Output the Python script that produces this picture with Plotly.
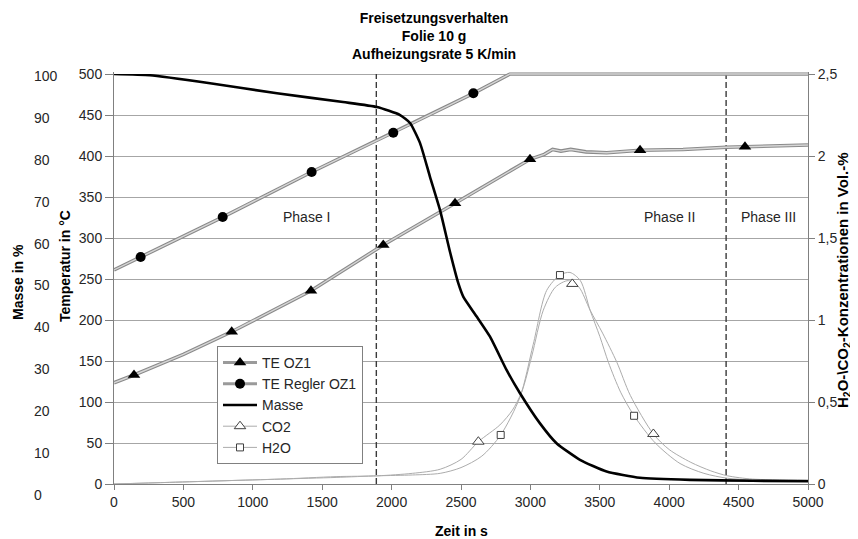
import plotly.graph_objects as go

# ---------------- data ----------------
title_lines = ["Freisetzungsverhalten", "Folie 10 g", "Aufheizungsrate 5 K/min"]

# TE OZ1 (thermocouple, triangles) - time in s, temperature in °C
time_te_oz1 = [0, 144, 500, 848, 1419, 1940, 2457, 2997, 3100, 3160, 3220, 3290, 3400, 3550, 3790, 4100, 4410, 4546, 4800, 5000]
temp_te_oz1 = [123.5, 132.9, 158, 185.7, 235.7, 291.5, 342.3, 396, 402, 408, 406, 408, 405, 404, 407, 408, 410.6, 411.3, 412.5, 413.4]
marker_time_te_oz1 = [144, 848, 1419, 1940, 2457, 2997, 3790, 4546]
marker_temp_te_oz1 = [132.9, 185.7, 235.7, 291.5, 342.3, 396, 407, 411.3]

# TE Regler OZ1 (controller, circles)
time_te_regler = [0, 192, 783, 1424, 2012, 2589, 2853, 5000]
temp_te_regler = [261, 276.8, 325.6, 380.5, 428.4, 476.5, 500, 500]
marker_time_te_regler = [192, 783, 1424, 2012, 2589]
marker_temp_te_regler = [276.8, 325.6, 380.5, 428.4, 476.5]

# Masse in %
time_masse = [0, 259, 692, 1174, 1650, 1895, 2061, 2133, 2205, 2277, 2349, 2421, 2481, 2517, 2613, 2709,
              2829, 2925, 3069, 3190, 3357, 3549, 3789, 4149, 4600, 5000]
masse = [100.5, 100.2, 98.3, 95.9, 93.8, 92.6, 90.7, 88.8, 84.0, 75.9, 68.0, 58.0, 50.5, 47.3, 42.6, 37.8,
         29.8, 24.3, 17.1, 12.3, 8.4, 5.6, 4.1, 3.6, 3.4, 3.3]

# CO2 in Vol.-%
time_co2 = [0, 400, 800, 1200, 1600, 1900, 2150, 2350, 2500, 2625, 2780, 2870, 2937, 3010, 3093, 3180, 3273,
            3350, 3430, 3520, 3623, 3720, 3886, 4000, 4156, 4300, 4420, 4600, 5000]
co2 = [0.0, 0.01, 0.02, 0.03, 0.045, 0.05, 0.065, 0.09, 0.15, 0.258, 0.36, 0.45, 0.56, 0.78, 1.06, 1.2, 1.24,
       1.2, 1.06, 0.92, 0.742, 0.54, 0.305, 0.21, 0.132, 0.08, 0.05, 0.03, 0.025]
marker_time_co2 = [2625, 3302, 3886]
marker_co2 = [0.258, 1.22, 0.305]

# H2O in Vol.-%
time_h2o = [0, 400, 800, 1200, 1600, 1900, 2150, 2350, 2500, 2650, 2786, 2925, 3020, 3117, 3213, 3285, 3360,
            3430, 3500, 3562, 3650, 3747, 3900, 4078, 4250, 4420, 4600, 5000]
h2o = [0.0, 0.01, 0.02, 0.03, 0.04, 0.05, 0.055, 0.065, 0.1, 0.17, 0.299, 0.53, 0.85, 1.18, 1.274, 1.29, 1.24,
       1.06, 0.9, 0.742, 0.56, 0.416, 0.25, 0.125, 0.065, 0.035, 0.025, 0.02]
marker_time_h2o = [2786, 3213, 3747]
marker_h2o = [0.299, 1.274, 0.416]

phase_names = ["Phase I", "Phase II", "Phase III"]
phase_time = [1388, 4001, 4714]
phase_temp = [326, 326, 326]
phase_bounds = [1890, 4410]

# ---------------- geometry / style ----------------
OFF = 8                       # page margin of the html body
W, H = 858 - OFF, 539 - OFF   # figure size
ML, MR, MT, MB = 12, 50, 64, 40
PW = W - ML - MR
PH = H - MT - MB

T_MAX = 502                   # a little headroom so the 500 °C plateau is not clipped
PX_PER_K = 410 / 500


def fx(px):
    """page pixel (reference) -> paper x"""
    return (px - OFF - ML) / PW


def fy(py):
    """page pixel (reference) -> paper y"""
    return (H - MB - (py - OFF)) / PH


FONT = "Liberation Sans, Arial, sans-serif"
TXT = "#262626"
AXC = "#808080"
GRAY_OUT = "#8a8a8a"
GRAY_IN = "#d6d6d6"
THIN = "#acacac"
MK = "#404040"

fig = go.Figure()


def te_series(xs, ys, mx, my, symbol, msize):
    fig.add_trace(go.Scatter(x=xs, y=ys, mode="lines", line=dict(color=GRAY_OUT, width=3.6),
                             showlegend=False, hoverinfo="skip"))
    fig.add_trace(go.Scatter(x=xs, y=ys, mode="lines", line=dict(color=GRAY_IN, width=1.4),
                             showlegend=False, hoverinfo="skip"))
    fig.add_trace(go.Scatter(x=mx, y=my, mode="markers",
                             marker=dict(symbol=symbol, size=msize, color="black"),
                             showlegend=False))


# gas concentrations (right axis)
fig.add_trace(go.Scatter(x=time_co2, y=co2, yaxis="y2", mode="lines",
                         line=dict(color=THIN, width=1, shape="spline", smoothing=0.8),
                         showlegend=False, hoverinfo="skip"))
fig.add_trace(go.Scatter(x=time_h2o, y=h2o, yaxis="y2", mode="lines",
                         line=dict(color=THIN, width=1, shape="spline", smoothing=0.8),
                         showlegend=False, hoverinfo="skip"))
fig.add_trace(go.Scatter(x=marker_time_co2, y=marker_co2, yaxis="y2", mode="markers",
                         marker=dict(symbol="triangle-up", size=10, color="white", line=dict(color=MK, width=1)),
                         showlegend=False))
fig.add_trace(go.Scatter(x=marker_time_h2o, y=marker_h2o, yaxis="y2", mode="markers",
                         marker=dict(symbol="square", size=7, color="white", line=dict(color=MK, width=1)),
                         showlegend=False))

te_series(time_te_regler, temp_te_regler, marker_time_te_regler, marker_temp_te_regler, "circle", 10)
te_series(time_te_oz1, temp_te_oz1, marker_time_te_oz1, marker_temp_te_oz1, "triangle-up", 11)

# mass (own axis)
fig.add_trace(go.Scatter(x=time_masse, y=masse, yaxis="y3", mode="lines",
                         line=dict(color="black", width=2.6, shape="spline", smoothing=0.5),
                         showlegend=False, hoverinfo="skip"))

# legend entries
fig.add_trace(go.Scatter(x=[None], y=[None], name="TE OZ1", mode="lines+markers",
                         line=dict(color="#9a9a9a", width=3),
                         marker=dict(symbol="triangle-up", size=11, color="black")))
fig.add_trace(go.Scatter(x=[None], y=[None], name="TE Regler OZ1", mode="lines+markers",
                         line=dict(color="#9a9a9a", width=3),
                         marker=dict(symbol="circle", size=10, color="black")))
fig.add_trace(go.Scatter(x=[None], y=[None], name="Masse", mode="lines",
                         line=dict(color="black", width=2.6)))
fig.add_trace(go.Scatter(x=[None], y=[None], name="CO2", mode="lines+markers",
                         line=dict(color=THIN, width=1),
                         marker=dict(symbol="triangle-up", size=10, color="white", line=dict(color=MK, width=1))))
fig.add_trace(go.Scatter(x=[None], y=[None], name="H2O", mode="lines+markers",
                         line=dict(color=THIN, width=1),
                         marker=dict(symbol="square", size=7, color="white", line=dict(color=MK, width=1))))

shapes = [dict(type="line", xref="x", yref="y", x0=b, x1=b, y0=0, y1=500, layer="between",
               line=dict(color="#3a3a3a", width=1.4, dash="6px,3px")) for b in phase_bounds]


def label(px, py, text, size=14, angle=0, color="black"):
    return dict(xref="paper", yref="paper", x=fx(px), y=fy(py), showarrow=False,
                xanchor="center", yanchor="middle", textangle=angle,
                text=text, font=dict(size=size, color=color))


annotations = [
    label(434, 36, "<br>".join("<b>%s</b>" % t for t in title_lines)),
    label(18, 282, "<b>Masse in %</b>", angle=-90),
    label(65, 266, "<b>Temperatur in °C</b>", angle=-90),
    label(843, 280, "<b>H<sub>2</sub>O-\\CO<sub>2</sub>-Konzentrationen in Vol.-%</b>", size=15, angle=-90),
    label(461, 531, "<b>Zeit in s</b>"),
]
for n, t, v in zip(phase_names, phase_time, phase_temp):
    annotations.append(dict(xref="x", yref="y", x=t, y=v, text=n, showarrow=False,
                            xanchor="center", yanchor="middle", font=dict(size=14, color=TXT)))

top_px = 484 - T_MAX * PX_PER_K   # pixel row of T_MAX

fig.update_layout(
    width=W, height=H,
    margin=dict(l=ML, r=MR, t=MT, b=MB, autoexpand=False),
    paper_bgcolor="white", plot_bgcolor="rgba(0,0,0,0)",
    separators=",.",
    font=dict(family=FONT, size=14, color=TXT),
    showlegend=True,
    legend=dict(x=fx(217), y=fy(346), xanchor="left", yanchor="top", bgcolor="white",
                bordercolor=AXC, borderwidth=1, font=dict(size=14, color=TXT), tracegroupgap=0,
                itemwidth=34),
    xaxis=dict(domain=[fx(114), fx(808)], range=[0, 5000], dtick=500, tick0=0, anchor="y",
               ticks="outside", ticklen=5, tickcolor=AXC, showline=True, linecolor=AXC, linewidth=1,
               showgrid=False, zeroline=False, automargin=False, tickfont=dict(size=14, color=TXT)),
    yaxis=dict(domain=[fy(484), fy(top_px)], range=[0, T_MAX], dtick=50, tick0=0, anchor="x", side="left",
               ticks="outside", ticklen=8, tickcolor=AXC, showline=True, linecolor=AXC, linewidth=1,
               showgrid=True, gridcolor="#a6a6a6", gridwidth=1, zeroline=False, automargin=False,
               tickfont=dict(size=14, color=TXT)),
    yaxis2=dict(overlaying="y", side="right", anchor="x", range=[0, 2.5 * T_MAX / 500], dtick=0.5, tick0=0,
                ticks="outside", ticklen=6, tickcolor=AXC, showline=True, linecolor=AXC, linewidth=1,
                showgrid=False, zeroline=False, automargin=False, tickfont=dict(size=14, color=TXT)),
    yaxis3=dict(domain=[fy(495), fy(74)], anchor="free", position=fx(33), side="right",
                range=[0, 100.5], dtick=10, tick0=0, ticks="", showline=False, showgrid=False,
                zeroline=False, automargin=False, tickfont=dict(size=14, color=TXT)),
    shapes=shapes,
    annotations=annotations,
)

fig.write_html("out.html")
